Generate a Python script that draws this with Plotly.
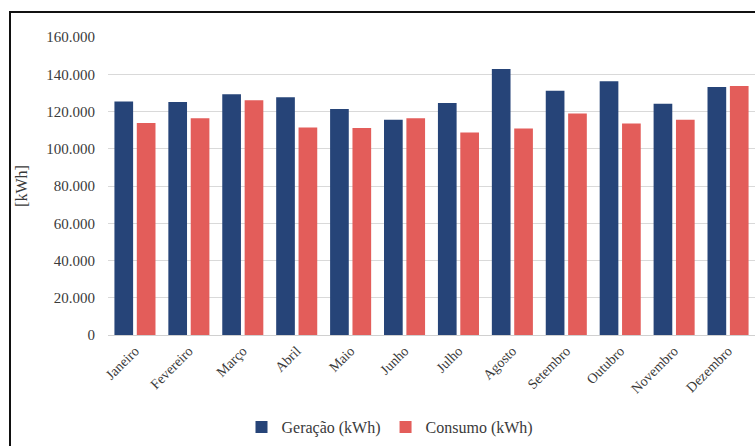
import plotly.graph_objects as go

meses = ["Janeiro", "Fevereiro", "Março", "Abril", "Maio", "Junho",
         "Julho", "Agosto", "Setembro", "Outubro", "Novembro", "Dezembro"]
geracao = [125400, 125100, 129300, 127700, 121300, 115600,
           124500, 142800, 131100, 136300, 124200, 133100]
consumo = [113800, 116400, 126100, 111400, 111100, 116400,
           108700, 110900, 118900, 113600, 115600, 133700]
y_ticks = [0, 20000, 40000, 60000, 80000, 100000, 120000, 140000, 160000]

AZUL = "#264478"
VERMELHO = "#E35D5A"
FONTE = "Liberation Serif"
TEXTO = "#3a3a3a"

W, H = 755, 446
ML, MR, MT, MB = 108, 0, 37, 111
pw, ph = W - ML - MR, H - MT - MB

fig = go.Figure()
fig.add_trace(go.Bar(x=meses, y=geracao, name="Geração (kWh)",
                     marker=dict(color=AZUL, line=dict(width=0))))
fig.add_trace(go.Bar(x=meses, y=consumo, name="Consumo (kWh)",
                     marker=dict(color=VERMELHO, line=dict(width=0))))


def px_x(x):
    return (x - ML) / pw


def px_y(y):
    return (H - MB - y) / ph


# outer chart frame (left and top edges)
frame = (f"M {px_x(10)} {px_y(H + 5)} L {px_x(10)} {px_y(12)} "
         f"L {px_x(W + 5)} {px_y(12)}")

fig.update_layout(
    width=W, height=H,
    margin=dict(l=ML, r=MR, t=MT, b=MB, autoexpand=False),
    paper_bgcolor="white", plot_bgcolor="white",
    barmode="group", bargap=0.17, bargroupgap=0.165,
    separators=",.",
    font=dict(family=FONTE, color=TEXTO, size=14),
    showlegend=True,
    legend=dict(orientation="h", x=px_x(390), xanchor="center",
                y=px_y(427), yanchor="middle",
                font=dict(family=FONTE, size=16, color=TEXTO),
                itemwidth=30, traceorder="normal"),
    xaxis=dict(tickangle=-45, tickfont=dict(family=FONTE, size=14, color=TEXTO),
               showgrid=False, showline=False, ticks="", ticklabelstandoff=4),
    yaxis=dict(range=[0, 160000], tickvals=y_ticks, tickformat=",.0f",
               tickfont=dict(family=FONTE, size=15, color=TEXTO),
               gridcolor="#d9d9d9", gridwidth=1,
               zeroline=True, zerolinecolor="#d0d0d0", zerolinewidth=1,
               showline=False, ticks="", ticklabelstandoff=12,
               title=dict(text="[kWh]",
                          font=dict(family=FONTE, size=16, color=TEXTO),
                          standoff=14)),
    shapes=[dict(type="path", xref="paper", yref="paper", path=frame,
                 line=dict(color="#111111", width=2))],
)

fig.write_html("out.html")
